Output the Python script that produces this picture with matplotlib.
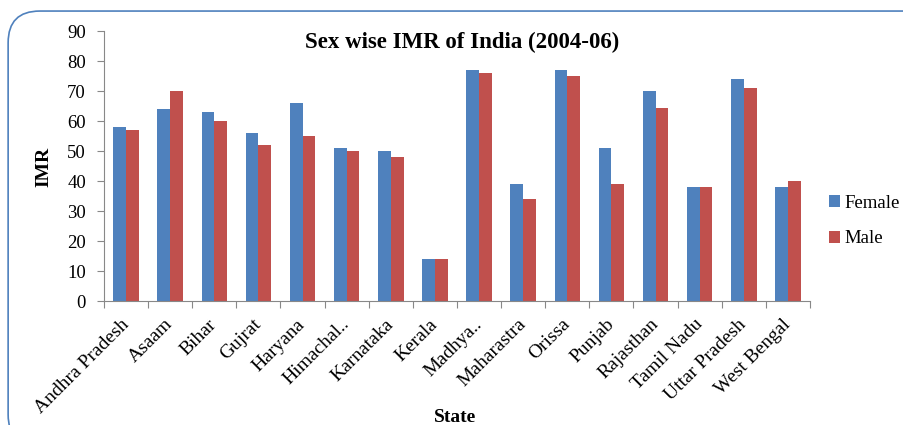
import matplotlib
matplotlib.use('Agg')
import matplotlib.pyplot as plt
import numpy as np
from matplotlib.patches import FancyBboxPatch

states = ['Andhra Pradesh', 'Asaam', 'Bihar', 'Gujrat', 'Haryana', 'Himachal..',
          'Karnataka', 'Kerala', 'Madhya..', 'Maharastra', 'Orissa', 'Punjab',
          'Rajasthan', 'Tamil Nadu', 'Uttar Pradesh', 'West Bengal']
female = [58, 64, 63, 56, 66, 51, 50, 14, 77, 39, 77, 51, 70, 38, 74, 38]
male = [57, 70, 60, 52, 55, 50, 48, 14, 76, 34, 75, 39, 64.5, 38, 71, 40]

plt.rcParams['font.family'] = ['Liberation Serif', 'DejaVu Serif']

fig = plt.figure(figsize=(9.04, 4.25), dpi=100)
# rounded frame around the chart area
frame = FancyBboxPatch((0.009, -0.05), 1.05, 1.024, boxstyle='round,pad=0,rounding_size=0.035',
                       transform=fig.transFigure, fc='none', ec='#4F81BD', lw=1.2,
                       mutation_aspect=904 / 425, zorder=-1)
fig.patches.append(frame)

ax = fig.add_axes([104 / 904, 1 - 301 / 425, (810 - 104) / 904, (301 - 31) / 425])
ax.patch.set_alpha(0)
x = np.arange(len(states))
w = 0.29
ax.bar(x - w / 2, female, w, color='#4F81BD', label='Female')
ax.bar(x + w / 2, male, w, color='#C0504D', label='Male')

ax.set_xlim(-0.5, len(states) - 0.5)
ax.set_ylim(0, 90)
ax.set_yticks(range(0, 91, 10))
ax.set_xticks(np.arange(-0.5, len(states), 1))
ax.set_xticklabels([])
ax.set_xticks(x, minor=True)
ax.set_xticklabels(states, minor=True, rotation=45, ha='right', va='center',
                   rotation_mode='anchor', fontsize=14)
ax.tick_params(axis='x', which='minor', length=0, pad=15)
ax.tick_params(axis='x', which='major', length=5, color='#888888', direction='out')
ax.tick_params(axis='y', length=5, color='#888888', labelsize=13.5, pad=8)
for s in ['top', 'right']:
    ax.spines[s].set_visible(False)
for s in ['left', 'bottom']:
    ax.spines[s].set_color('#888888')

fig.text(44 / 904, 1 - 167 / 425, 'IMR', rotation=90, ha='center', va='center',
         fontsize=14, fontweight='bold')
fig.text(462 / 904, 1 - 42 / 425, 'Sex wise IMR of India (2004-06)', ha='center', va='center',
         fontsize=16.5, fontweight='bold')
fig.text(455 / 904, 1 - 417 / 425, 'State', ha='center', va='center', fontsize=14,
         fontweight='bold')

ax.legend(loc='center left', bbox_to_anchor=(1.0, 0.296), frameon=False, fontsize=13.5,
          handlelength=0.6, handleheight=0.6, handletextpad=0.25, labelspacing=1.0,
          borderaxespad=0.6)

fig.savefig('out.png', dpi=100)
